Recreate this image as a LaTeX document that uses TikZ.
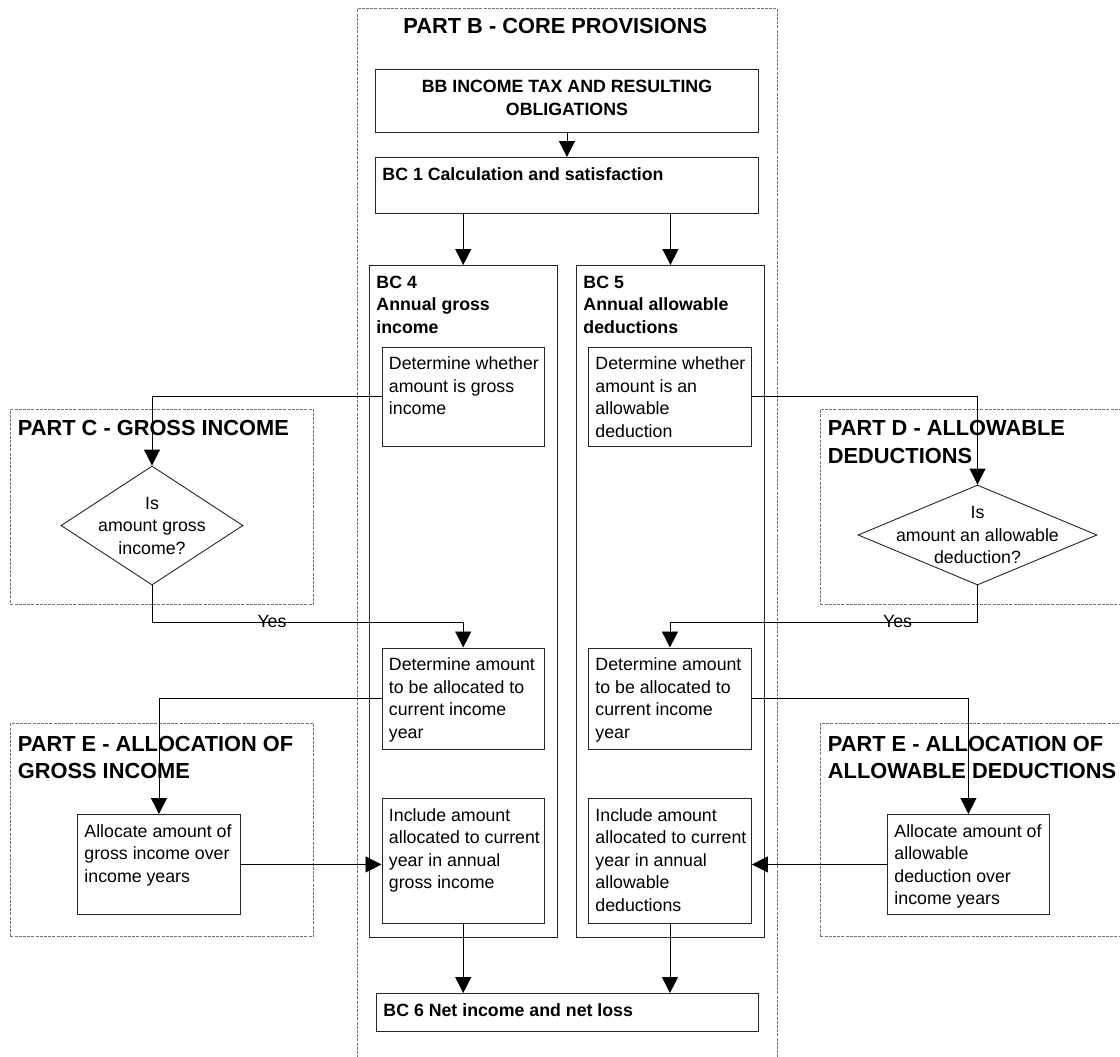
\documentclass[tikz,border=0pt]{standalone}
\usepackage{fontspec}
\setmainfont{Liberation Sans}
\usetikzlibrary{shapes.geometric,arrows.meta,calc}

% type sizes
\newcommand\dgbody{\fontsize{17.75pt}{22.5pt}\selectfont}
\newcommand\dgbold{\bfseries\fontsize{17.75pt}{22.5pt}\selectfont}
\newcommand\dgtitle{\bfseries\fontsize{21.8pt}{27.6pt}\selectfont}

% box contents: text width, box height, [first baseline,] lines
\newcommand\tbox[4]{\parbox[c][#2pt][t]{#1pt}{\rule{0pt}{#3pt}%
  \begin{tabular}[t]{@{}l@{}}#4\end{tabular}}}
\newcommand\lbox[3]{\tbox{#1}{#2}{22.7}{#3}}
\newcommand\cbox[4]{\parbox[c][#2pt][t]{#1pt}{\centering\rule{0pt}{#3pt}%
  \begin{tabular}[t]{@{}c@{}}#4\end{tabular}}}

\tikzset{
  box/.style={draw=black!85, line width=0.9pt, inner ysep=0pt, inner xsep=7pt,
              anchor=north west, font=\dgbody},
  part/.style={draw=black!55, dash pattern=on 3pt off 1.2pt, line width=0.9pt,
               inner ysep=0pt, inner xsep=7.5pt, anchor=north west, font=\dgtitle},
  dia/.style={diamond, draw=black!85, line width=0.9pt, inner sep=0pt},
  arr/.style={draw=black, line width=0.9pt, -{Triangle[width=16pt,length=16pt]}},
  lbl/.style={font=\dgbody, inner sep=0pt},
}

\begin{document}
\begin{tikzpicture}[x=1pt, y=-1pt]
\clip (0,0) rectangle (1120,1057);

% grouping frames
\node[part] (PB) at (357,8) {\tbox{405}{1070}{25}{\hspace*{38.5pt}PART B - CORE PROVISIONS}};
\node[part] (PC) at (10,409) {\tbox{288}{195}{26}{PART C - GROSS INCOME}};
\node[part] (PD) at (820,409) {\tbox{305}{195}{26}{PART D - ALLOWABLE\\DEDUCTIONS}};
\node[part] (PEL) at (10,723) {\tbox{288}{213}{27.7}{PART E - ALLOCATION OF\\GROSS INCOME}};
\node[part] (PER) at (820,723) {\tbox{305}{213}{27.7}{PART E - ALLOCATION OF\\ALLOWABLE DEDUCTIONS}};

% core provisions
\node[box, font=\dgbold] (BB) at (375,69) {\cbox{369}{63}{23}{BB INCOME TAX AND RESULTING\\[0.8pt]OBLIGATIONS}};
\node[box, font=\dgbold] (BC1) at (375,157) {\lbox{369}{56}{BC 1 Calculation and satisfaction}};
\node[box, font=\dgbold] (BC4) at (369,265) {\lbox{173.5}{671.5}{BC 4\\Annual gross\\income}};
\node[box, font=\dgbold] (BC5) at (576,265) {\lbox{174}{671.5}{BC 5\\Annual allowable\\deductions}};
\node[box, font=\dgbold] (BC6) at (376,993) {\lbox{368}{38}{BC 6 Net income and net loss}};

% steps for gross income
\node[box] (g1) at (381.5,346.5) {\lbox{148.5}{99}{Determine whether\\amount is gross\\income}};
\node[box] (g2) at (381.5,647.5) {\lbox{148.5}{101}{Determine amount\\to be allocated to\\current income\\year}};
\node[box] (g3) at (381.5,798) {\lbox{148.5}{125}{Include amount\\allocated to current\\year in annual\\gross income}};

% steps for allowable deductions
\node[box] (d1) at (588,346.5) {\lbox{149}{99}{Determine whether\\amount is an\\allowable\\deduction}};
\node[box] (d2) at (588,647.5) {\lbox{149}{101}{Determine amount\\to be allocated to\\current income\\year}};
\node[box] (d3) at (588,798) {\lbox{149}{125}{Include amount\\allocated to current\\year in annual\\allowable\\deductions}};

% decisions
\node[dia, minimum width=182, minimum height=119] (qC) at (152,525.5) {};
\node[lbl, align=center] (qCt) at (qC.center) {Is\\amount gross\\income?};
\node[dia, minimum width=239, minimum height=100] (qD) at (977.5,535) {};
\node[lbl, align=center] (qDt) at (qD.center) {Is\\amount an allowable\\deduction?};

% allocation
\node[box] (eL) at (77,814) {\lbox{149}{100}{Allocate amount of\\gross income over\\income years}};
\node[box] (eR) at (887,814) {\lbox{148}{100}{Allocate amount of\\allowable\\deduction over\\income years}};

% connectors
\draw[arr] (BB.south) -- (BC1.north);
\draw[arr] (BC1.south -| BC4.north) -- (BC4.north);
\draw[arr] (BC1.south -| BC5.north) -- (BC5.north);

\draw[arr] (g1.west) -| (qC.north);
\draw[arr] (qC.south) -- ++(0,37) coordinate (yC) -| (g2.north);
\node[lbl, anchor=base] (yesC) at ($(yC)+(120,5)$) {Yes};

\draw[arr] (d1.east) -| (qD.north);
\draw[arr] (qD.south) -- ++(0,37) coordinate (yD) -| (d2.north);
\node[lbl, anchor=base] (yesD) at ($(yD)+(-80,5)$) {Yes};

\draw[arr] (g2.west) -| (eL.north);
\draw[arr] (d2.east) -| (eR.north);
\draw[arr] (eL.east) -- (eL.east -| g3.west);
\draw[arr] (eR.west) -- (eR.west -| d3.east);

\draw[arr] (g3.south) -- (g3.south |- BC6.north);
\draw[arr] (d3.south) -- (d3.south |- BC6.north);
\end{tikzpicture}
\end{document}
